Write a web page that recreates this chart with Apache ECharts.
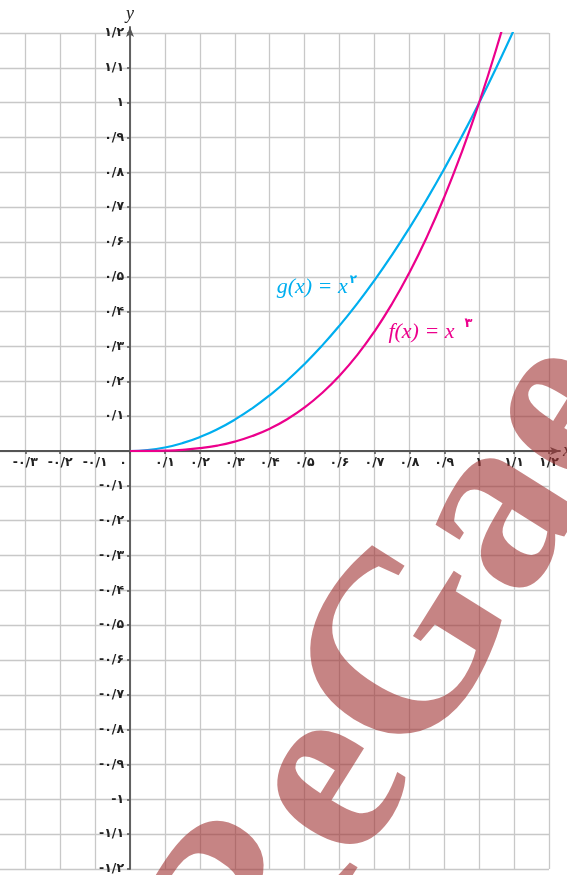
<!DOCTYPE html>
<html>
<head>
<meta charset="utf-8">
<script src="https://cdn.jsdelivr.net/npm/echarts@6/dist/echarts.min.js"></script>
<style>
html,body{margin:0;padding:0;background:#fff;}
#c{width:567px;height:875px;}
</style>
</head>
<body>
<div id="c"></div>
<script>
// ---- data ----
const xs = [0,0.05,0.1,0.15,0.2,0.25,0.3,0.35,0.4,0.45,0.5,0.55,0.6,0.65,0.7,0.75,0.8,0.85,0.9,0.95,1,1.05,1.1];
const gVals = [0,0.0025,0.01,0.0225,0.04,0.0625,0.09,0.1225,0.16,0.2025,0.25,0.3025,0.36,0.4225,0.49,0.5625,0.64,0.7225,0.81,0.9025,1,1.1025,1.21];
const fVals = [0,0.0001,0.001,0.0034,0.008,0.0156,0.027,0.0429,0.064,0.0911,0.125,0.1664,0.216,0.2746,0.343,0.4219,0.512,0.6141,0.729,0.8574,1,1.1576,1.331];

const xTickValues = [-0.3,-0.2,-0.1,0,0.1,0.2,0.3,0.4,0.5,0.6,0.7,0.8,0.9,1,1.1,1.2];
const xTickLabels = ['-۰/۳','-۰/۲','-۰/۱','۰','۰/۱','۰/۲','۰/۳','۰/۴','۰/۵','۰/۶','۰/۷','۰/۸','۰/۹','۱','۱/۱','۱/۲'];
const yTickValues = [1.2,1.1,1,0.9,0.8,0.7,0.6,0.5,0.4,0.3,0.2,0.1,-0.1,-0.2,-0.3,-0.4,-0.5,-0.6,-0.7,-0.8,-0.9,-1,-1.1,-1.2];
const yTickLabels = ['۱/۲','۱/۱','۱','۰/۹','۰/۸','۰/۷','۰/۶','۰/۵','۰/۴','۰/۳','۰/۲','۰/۱','-۰/۱','-۰/۲','-۰/۳','-۰/۴','-۰/۵','-۰/۶','-۰/۷','-۰/۸','-۰/۹','-۱','-۱/۱','-۱/۲'];

const gName = 'g(x) = x';
const gExp = '۲';
const fName = 'f(x) = x';
const fExp = '۳';
const watermark = 'ReGae';

// ---- layout ----
const W = 567, H = 875;
const G0 = {left:-9.6, right:18, top:33, bottom:6};
const XMIN = -0.4, XMAX = 1.2, YMIN = -1.2, YMAX = 1.2;
const gw = W - G0.left - G0.right, gh = H - G0.top - G0.bottom;
const yAxisOffset = -((0 - XMIN) / (XMAX - XMIN) * gw);   // move left axis onto x = 0
const xAxisOffset = -((0 - YMIN) / (YMAX - YMIN) * gh);   // move bottom axis onto y = 0

const GRID = '#c8c8c8', AX = '#555';
const labelFont = {fontFamily:'DejaVu Sans', fontSize:12.5, fontWeight:'bold', color:'#222'};

function lookup(vals, labels, v){
  for (let i=0;i<vals.length;i++){ if (Math.abs(vals[i]-v)<1e-6) return labels[i]; }
  return '';
}

const chart = echarts.init(document.getElementById('c'), null, {renderer:'canvas'});
const option = {
  animation:false,
  backgroundColor:'#fff',
  grid:[
    Object.assign({outerBoundsMode:'none', containLabel:false}, G0),
    {left:-9.6, right:7, top:27, bottom:6, outerBoundsMode:'none', containLabel:false}
  ],
  xAxis:[
    {type:'value', gridIndex:0, min:XMIN, max:XMAX, interval:0.1, position:'bottom', offset:xAxisOffset,
     axisLine:{show:false, onZero:false},
     axisTick:{show:true, length:3, lineStyle:{color:AX, width:1.5}},
     splitLine:{show:true, lineStyle:{color:GRID, width:1.3}},
     axisLabel:Object.assign({margin:5, showMinLabel:false,
       formatter:function(v){ if (Math.abs(v)<1e-6) return '{z|۰}'; return lookup(xTickValues,xTickLabels,v); },
       rich:{z:{padding:[0,14,0,0], fontFamily:'DejaVu Sans', fontSize:12.5, fontWeight:'bold', color:'#222'}}
     }, labelFont)
    },
    {type:'value', gridIndex:1, min:XMIN, max:1.232,
     axisLine:{show:true, onZero:true, symbol:['none','arrow'], symbolSize:[6,10], lineStyle:{color:AX, width:1.8}},
     axisTick:{show:false}, axisLabel:{show:false}, splitLine:{show:false},
     name:'x', nameGap:3, nameTextStyle:{fontFamily:'Liberation Serif', fontStyle:'italic', fontSize:18, color:'#222'}
    }
  ],
  yAxis:[
    {type:'value', gridIndex:0, min:YMIN, max:YMAX, interval:0.1, position:'left', offset:yAxisOffset,
     axisLine:{show:false, onZero:false},
     axisTick:{show:true, length:3, lineStyle:{color:AX, width:1.5}},
     splitLine:{show:true, lineStyle:{color:GRID, width:1.3}},
     axisLabel:Object.assign({margin:6,
       formatter:function(v){ if (Math.abs(v)<1e-6) return ''; return lookup(yTickValues,yTickLabels,v); }
     }, labelFont)
    },
    {type:'value', gridIndex:1, min:YMIN, max:1.217,
     axisLine:{show:true, onZero:true, symbol:['none','arrow'], symbolSize:[6,10], lineStyle:{color:AX, width:1.8}},
     axisTick:{show:false}, axisLabel:{show:false}, splitLine:{show:false},
     name:'y', nameGap:4, nameTextStyle:{fontFamily:'Liberation Serif', fontStyle:'italic', fontSize:18, color:'#222'}
    }
  ],
  series:[
    {type:'line', name:'g', xAxisIndex:0, yAxisIndex:0, data:xs.map((x,i)=>[x,gVals[i]]),
     smooth:true, showSymbol:false, lineStyle:{color:'#00aeef', width:2.2}, clip:true, z:5},
    {type:'line', name:'f', xAxisIndex:0, yAxisIndex:0, data:xs.map((x,i)=>[x,fVals[i]]),
     smooth:true, showSymbol:false, lineStyle:{color:'#ec008c', width:2.2}, clip:true, z:5}
  ]
};
chart.setOption(option);

const gp = chart.convertToPixel({xAxisIndex:0, yAxisIndex:0}, [0.42, 0.44]);
const fp = chart.convertToPixel({xAxisIndex:0, yAxisIndex:0}, [0.74, 0.31]);
const th = 58*Math.PI/180;
const txtFont = 'italic 22px "Liberation Serif"';
chart.setOption({
  graphic:[
    {type:'text', x:gp[0], y:gp[1], z:10, style:{text:gName, font:txtFont, fill:'#00aeef', align:'left', verticalAlign:'bottom'}},
    {type:'text', x:gp[0]+73, y:gp[1]-24, z:10, style:{text:gExp, font:'bold 12px "DejaVu Sans"', fill:'#00aeef', align:'left', verticalAlign:'top'}},
    {type:'text', x:fp[0], y:fp[1], z:10, style:{text:fName, font:txtFont, fill:'#ec008c', align:'left', verticalAlign:'bottom'}},
    {type:'text', x:fp[0]+76, y:fp[1]-26, z:10, style:{text:fExp, font:'bold 13px "DejaVu Sans"', fill:'#ec008c', align:'left', verticalAlign:'top'}},
    {type:'text', x:398, y:678, rotation:th, z:100, style:{text:watermark, font:'bold 255px "Liberation Serif"', fill:'rgba(160,50,50,0.6)', align:'center', verticalAlign:'middle'}}
  ]
});
</script>
</body>
</html>
